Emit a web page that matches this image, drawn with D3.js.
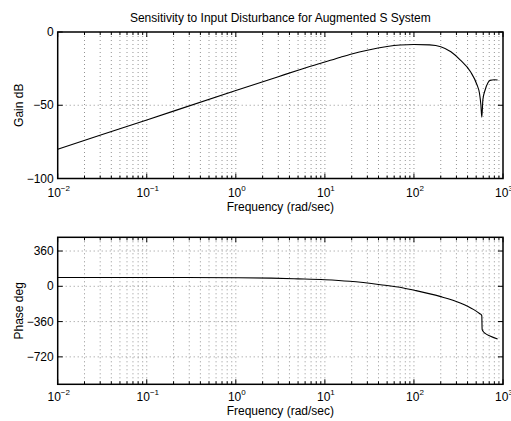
<!DOCTYPE html>
<html><head><meta charset="utf-8">
<script src="https://cdn.jsdelivr.net/npm/d3@7"></script>
<style>
body{margin:0;background:#fff;}
svg{display:block;}
text{font-family:"Liberation Sans",Arial,Helvetica,sans-serif;fill:#000;}
</style></head>
<body>
<svg id="c" width="511" height="421"></svg>
<script>
// ---- data ----
const titleText = "Sensitivity to Input Disturbance for Augmented S System";
const xLabel = "Frequency (rad/sec)";
const gainLabel = "Gain dB";
const phaseLabel = "Phase deg";
const decadeExponents = [-2, -1, 0, 1, 2, 3];
const gainTicks = [0, -50, -100];
const phaseTicks = [360, 0, -360, -720];

const gainFreq = [0.01, 0.1, 1, 3, 5, 10, 15, 20, 30, 50, 70, 100, 150, 200, 260, 330, 430, 510, 545, 565, 578, 595, 630, 680, 714, 800, 870];
const gainDb   = [-80, -60, -40, -30.5, -26.1, -20.5, -17.2, -15, -12.4, -9.9, -8.9, -8.5, -8.8, -10, -13.5, -19, -27, -36, -42, -50, -58.2, -46, -39.6, -34.5, -33, -32.6, -32.8];

const phaseFreq = [0.01, 0.1, 1, 2.5, 5, 10, 19, 42, 76, 103, 196, 331, 470, 550, 572, 578, 583, 600, 630, 714, 870];
const phaseDeg  = [90, 90, 88, 83, 76, 67, 51, 16, -17, -42, -103, -170, -238, -280, -292, -300, -440, -462, -480, -507, -538];

// ---- layout ----
const svg = d3.select("#c");
const X0 = 57.7, X1 = 503;
const x = d3.scaleLog().domain([0.01, 1000]).range([X0, X1]);
const FS = 12;

const panels = [
  {top: 32, bottom: 178.5, domain: [-100, 0], ticks: gainTicks, label: gainLabel, fx: gainFreq, fy: gainDb, labelY: 197, xlabY: 211},
  {top: 237.3, bottom: 384.3, domain: [-1000, 500], ticks: phaseTicks, label: phaseLabel, fx: phaseFreq, fy: phaseDeg, labelY: 401, xlabY: 415}
];

const minorFreqs = [];
for (let e = -2; e < 3; e++) for (let m = 2; m <= 9; m++) minorFreqs.push(m * Math.pow(10, e));
const majorFreqs = decadeExponents.map(e => Math.pow(10, e));

panels.forEach(p => {
  const y = d3.scaleLinear().domain(p.domain).range([p.bottom, p.top]);
  const g = svg.append("g");
  // grid
  const gridStyle = s => s.attr("stroke", "#777").attr("stroke-width", 0.8).attr("stroke-dasharray", "1,3");
  g.selectAll(".vg").data(majorFreqs.concat(minorFreqs).filter(f => f > 0.01 && f < 1000)).enter().append("line")
    .attr("x1", d => x(d)).attr("x2", d => x(d)).attr("y1", p.top).attr("y2", p.bottom).call(gridStyle);
  g.selectAll(".hg").data(p.ticks.filter(t => t > p.domain[0] && t < p.domain[1])).enter().append("line")
    .attr("x1", X0).attr("x2", X1).attr("y1", d => y(d)).attr("y2", d => y(d)).call(gridStyle);
  // ticks
  const tickLine = (x1, y1, x2, y2) => g.append("line").attr("x1", x1).attr("y1", y1).attr("x2", x2).attr("y2", y2).attr("stroke", "#000").attr("stroke-width", 1);
  majorFreqs.forEach(f => { tickLine(x(f), p.bottom, x(f), p.bottom - 5); tickLine(x(f), p.top, x(f), p.top + 5); });
  minorFreqs.forEach(f => { tickLine(x(f), p.bottom, x(f), p.bottom - 3); tickLine(x(f), p.top, x(f), p.top + 3); });
  p.ticks.forEach(t => { tickLine(X0, y(t), X0 + 5, y(t)); tickLine(X1, y(t), X1 - 5, y(t)); });
  // curve
  const line = d3.line().x(d => x(d[0])).y(d => y(d[1])).curve(d3.curveMonotoneX);
  g.append("path").attr("d", line(p.fx.map((f, i) => [f, p.fy[i]])))
    .attr("fill", "none").attr("stroke", "#000").attr("stroke-width", 1.1);
  // frame
  g.append("rect").attr("x", X0).attr("y", p.top).attr("width", X1 - X0).attr("height", p.bottom - p.top)
    .attr("fill", "none").attr("stroke", "#000").attr("stroke-width", 1.5);
  // y tick labels
  g.selectAll(".yl").data(p.ticks).enter().append("text")
    .attr("x", X0 - 4).attr("y", d => y(d) + 4).attr("text-anchor", "end").attr("font-size", FS)
    .text(d => d < 0 ? "\u2212" + Math.abs(d) : String(d));
  // x tick labels
  decadeExponents.forEach(e => {
    const t = g.append("text").attr("x", x(Math.pow(10, e)) + 1).attr("y", p.labelY).attr("text-anchor", "middle").attr("font-size", FS);
    t.append("tspan").text("10");
    t.append("tspan").attr("dy", -6).attr("font-size", 8).text(e < 0 ? "\u2212" + Math.abs(e) : String(e));
  });
  // x label
  g.append("text").attr("x", (X0 + X1) / 2).attr("y", p.xlabY).attr("text-anchor", "middle").attr("font-size", FS).text(xLabel);
  // y label
  g.append("text").attr("transform", `translate(23,${(p.top + p.bottom) / 2}) rotate(-90)`)
    .attr("text-anchor", "middle").attr("font-size", FS).text(p.label);
});

svg.append("text").attr("x", (X0 + X1) / 2).attr("y", 22).attr("text-anchor", "middle").attr("font-size", FS).text(titleText);
</script>
</body></html>
